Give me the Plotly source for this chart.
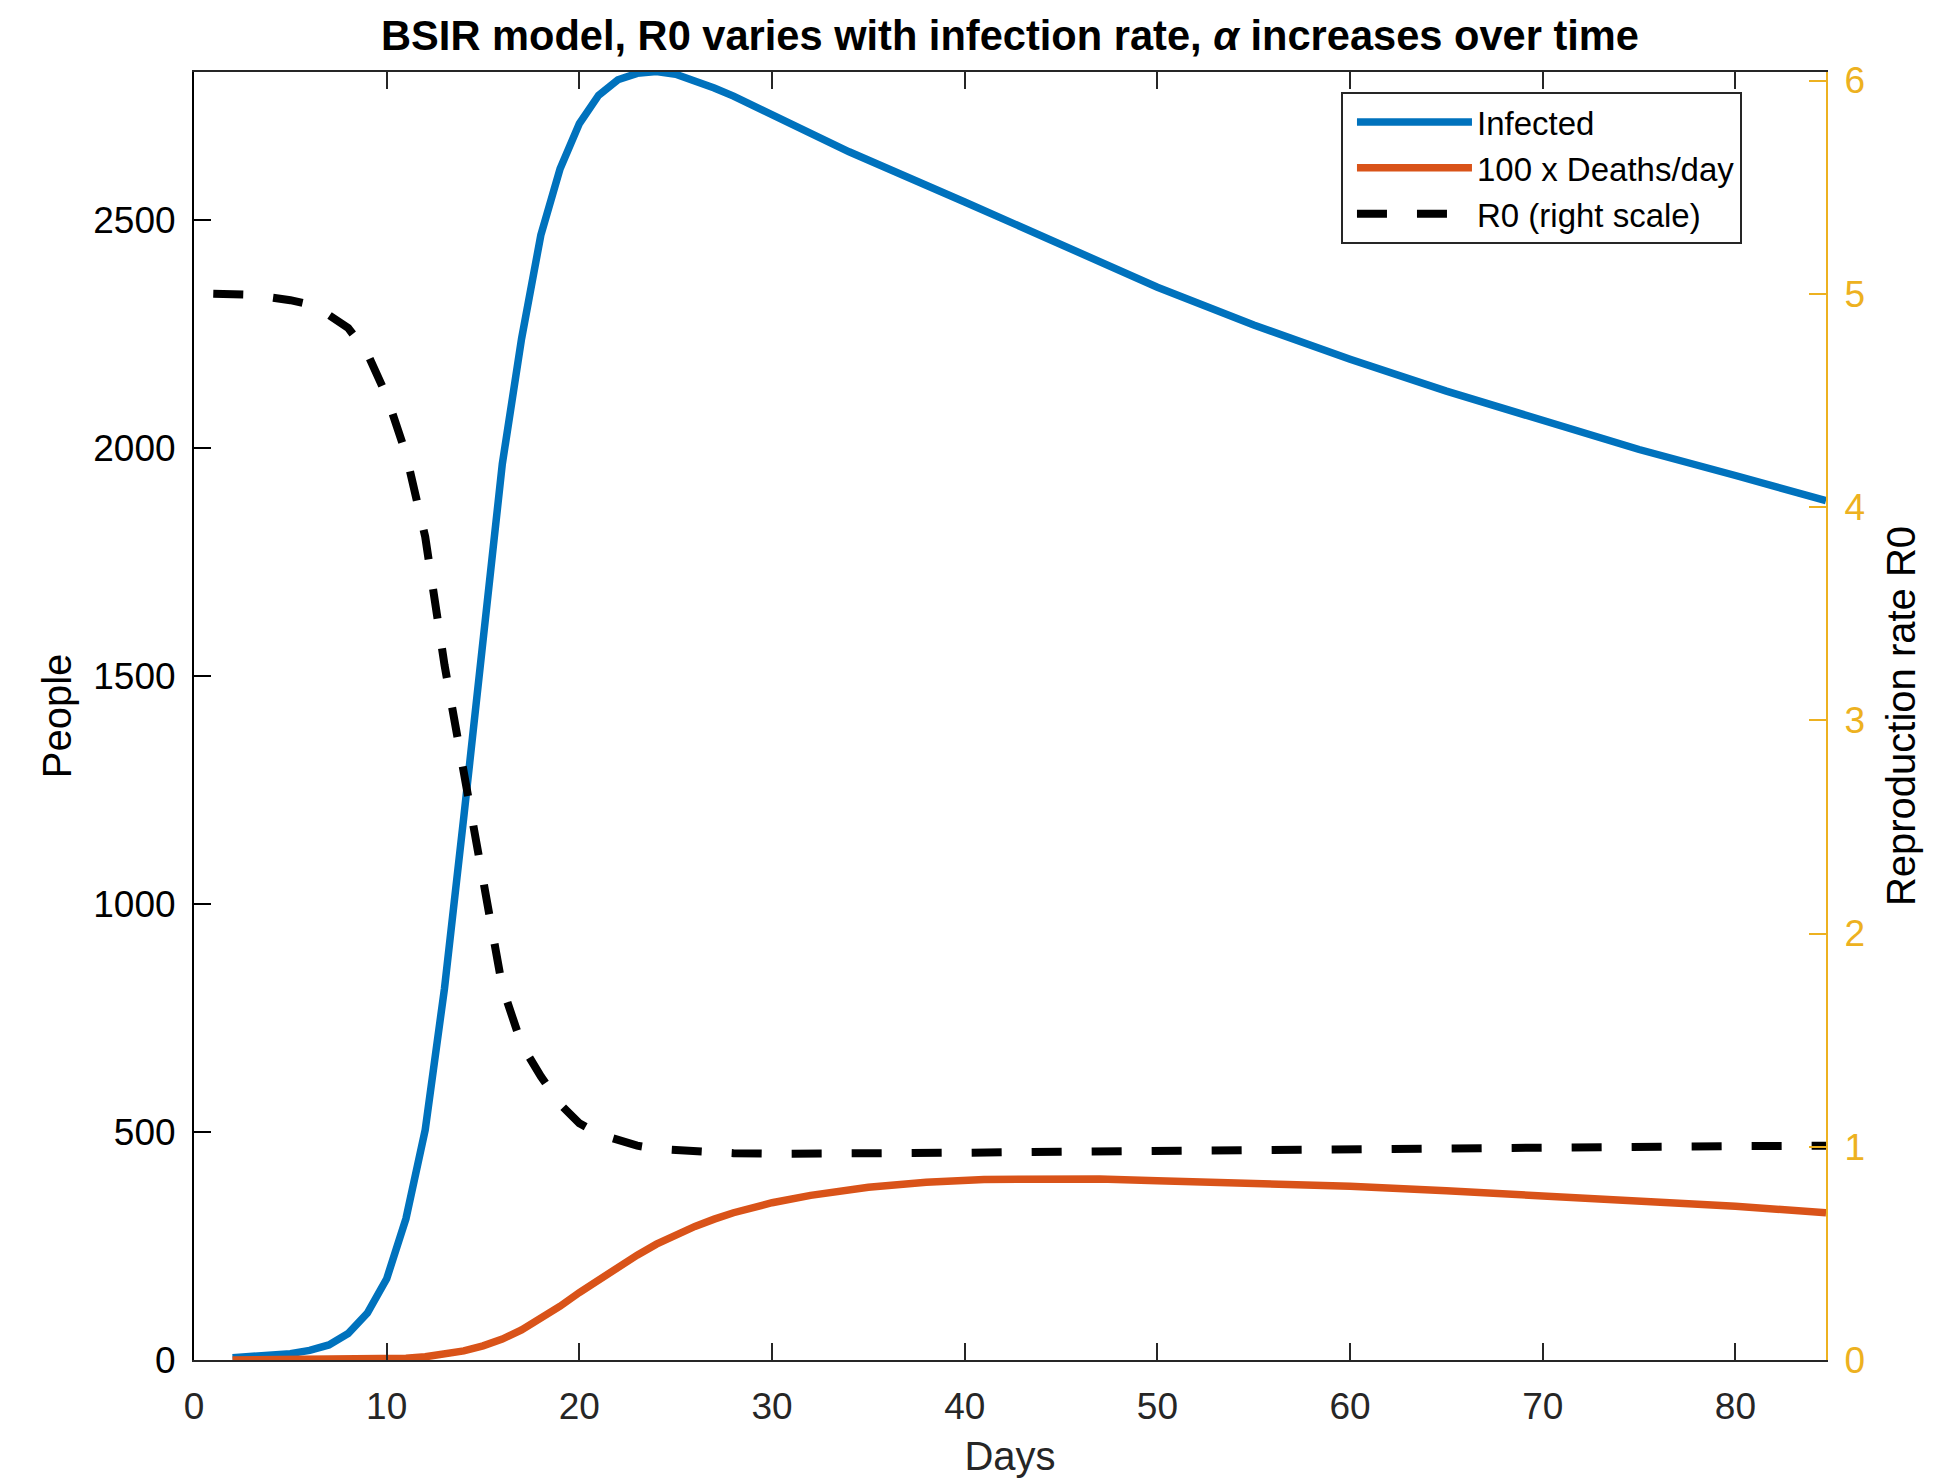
import plotly.graph_objects as go

# ---- data ----
inf_days = [2, 3, 4, 5, 6, 7, 8, 9, 10, 11, 12, 13, 14, 15, 16, 17, 18, 19, 20, 21, 22, 23, 24, 25,
            26, 27, 28, 30, 34, 40, 45, 50, 55, 60, 65, 70, 75, 80, 84.7]
infected = [5, 7, 10, 14, 21, 33, 58, 103, 178, 310, 505, 815, 1190, 1594, 1965, 2240, 2467, 2613,
            2712, 2774, 2808, 2822, 2826, 2820, 2806, 2790, 2772, 2732, 2650, 2540, 2445, 2353, 2270,
            2195, 2125, 2060, 1997, 1940, 1885]

death_days = [2, 4, 6, 8, 10, 11, 12, 13, 14, 15, 16, 17, 18, 19, 20, 21, 22, 23, 24, 25, 26, 27, 28,
              30, 32, 35, 38, 41, 44, 47, 50, 55, 60, 65, 70, 75, 80, 84.7]
deaths100 = [0, 0.3, 0.6, 1.2, 2.5, 4, 7, 12, 20, 31, 46, 66, 90, 118, 148, 177, 205, 230, 254, 275,
             293, 309, 323, 345, 361, 379, 390, 396, 398, 397, 393, 389, 381, 371, 361, 350, 337, 323]

r0_days = [1, 3, 5, 6, 7, 8, 9, 10, 11, 12, 13, 14, 15, 16, 17, 18, 19, 20, 21, 22, 23, 24, 26, 28,
           30, 33, 36, 40, 45, 50, 60, 70, 80, 84.7]
r0 = [5.0, 4.995, 4.97, 4.95, 4.90, 4.84, 4.72, 4.52, 4.25, 3.86, 3.26, 2.76, 2.22, 1.75, 1.48, 1.33,
      1.20, 1.11, 1.06, 1.03, 1.005, 0.99, 0.976, 0.970, 0.967, 0.966, 0.968, 0.972, 0.977, 0.982,
      0.99, 0.997, 1.003, 1.005]

x_ticks = [0, 10, 20, 30, 40, 50, 60, 70, 80]
y_ticks = [0, 500, 1000, 1500, 2000, 2500]
y2_ticks = [0, 1, 2, 3, 4, 5, 6]

FONT = "Liberation Sans, Arial, Helvetica, sans-serif"
BLUE = "#0072BD"
ORANGE = "#D95319"
YELLOW = "#EDB120"

fig = go.Figure()
fig.add_trace(go.Scatter(x=inf_days, y=infected, mode="lines", name="Infected",
                         line=dict(color=BLUE, width=7.5)))
fig.add_trace(go.Scatter(x=death_days, y=deaths100, mode="lines", name="100 x Deaths/day",
                         line=dict(color=ORANGE, width=7.5)))
fig.add_trace(go.Scatter(x=r0_days, y=r0, mode="lines", name="R0 (right scale)", yaxis="y2",
                         line=dict(color="black", width=8, dash="30px,30px")))

fig.update_layout(
    width=1942, height=1478,
    margin=dict(l=194, r=116, t=72, b=118),
    paper_bgcolor="white", plot_bgcolor="white",
    font=dict(family=FONT, size=37, color="black"),
    title=dict(text="<b>BSIR model, R0 varies with infection rate, <i>α</i> increases over time</b>",
               x=0.5, xref="paper", xanchor="center", y=1 - 35 / 1478, yref="container",
               yanchor="middle", font=dict(size=41.6, family=FONT, color="black")),
    xaxis=dict(range=[0, 84.7], tickvals=x_ticks, ticks="inside", ticklen=17, tickwidth=2,
               tickcolor="#262626", showline=True, linecolor="#262626", linewidth=2,
               mirror="ticks", showgrid=False, zeroline=False, automargin=False,
               tickfont=dict(size=37, color="#262626"), ticklabelstandoff=13,
               title=dict(text="Days", font=dict(size=40, color="#262626"), standoff=21)),
    yaxis=dict(range=[0, 2825], tickvals=y_ticks, ticks="inside", ticklen=17, tickwidth=2,
               tickcolor="black", showline=True, linecolor="black", linewidth=2,
               showgrid=False, zeroline=False, automargin=False,
               tickfont=dict(size=37, color="black"), ticklabelstandoff=9,
               title=dict(text="People", font=dict(size=40, color="black"), standoff=9)),
    yaxis2=dict(range=[0, 6.04], tickvals=y2_ticks, overlaying="y", side="right",
                ticks="inside", ticklen=17, tickwidth=2, tickcolor=YELLOW, showline=True,
                linecolor=YELLOW, linewidth=2, showgrid=False, zeroline=False, automargin=False,
                tickfont=dict(size=37, color=YELLOW), ticklabelstandoff=9,
                title=dict(text="Reproduction rate R0", font=dict(size=40, color="black"),
                           standoff=23)),
    legend=dict(x=0.7028, y=0.9845, xanchor="left", yanchor="top", bgcolor="white",
                bordercolor="#262626", borderwidth=2, font=dict(size=33, color="black"),
                itemwidth=115, tracegroupgap=0, indentation=9),
    showlegend=True,
)

fig.write_html("out.html")
